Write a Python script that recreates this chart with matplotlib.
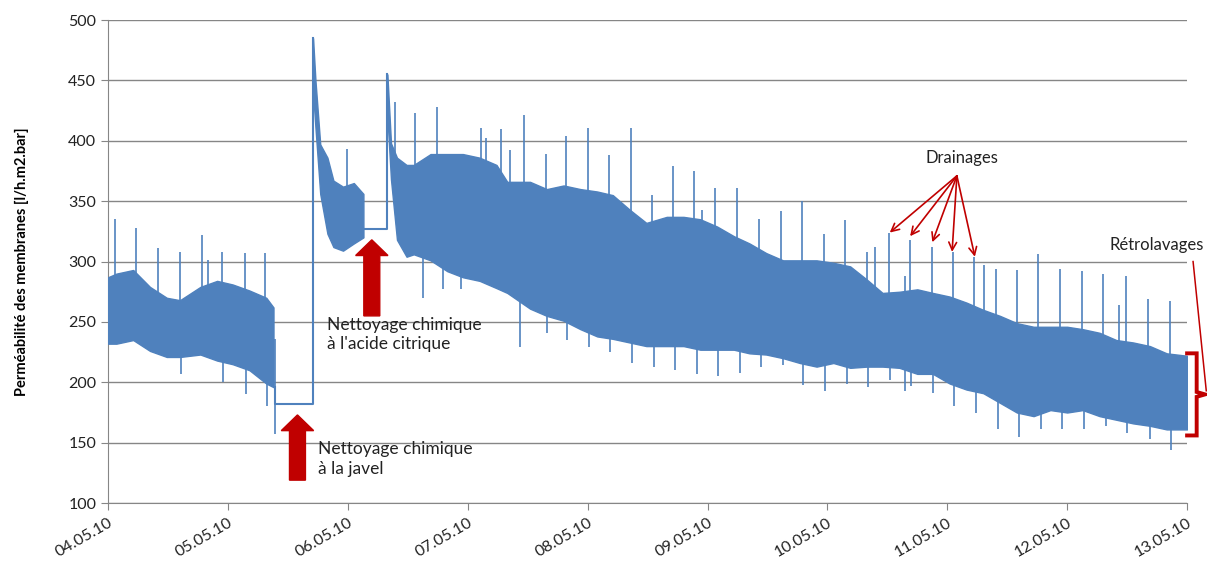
import numpy as np
import matplotlib.pyplot as plt
from matplotlib.patches import FancyArrow

plt.rcParams['font.family'] = ['Lato', 'DejaVu Sans']

# jours depuis le 04.05.10 00:00
date_labels = ['04.05.10', '05.05.10', '06.05.10', '07.05.10', '08.05.10',
               '09.05.10', '10.05.10', '11.05.10', '12.05.10', '13.05.10']

# enveloppe du signal (haut / bas)
seg1_days = [0.0, 0.07, 0.21, 0.35, 0.49, 0.60, 0.77, 0.91, 1.04, 1.18, 1.32, 1.38]
seg1_upper = [287, 290, 293, 279, 270, 268, 279, 284, 281, 276, 270, 262]
seg1_lower = [232, 232, 235, 226, 221, 221, 223, 218, 215, 210, 199, 196]

seg2_days = [1.71, 1.73, 1.77, 1.83, 1.88, 1.96, 2.05, 2.13]
seg2_upper = [485, 450, 397, 386, 367, 362, 365, 356]
seg2_lower = [440, 411, 356, 323, 312, 309, 315, 320]

seg3_days = [2.33, 2.36, 2.41, 2.49, 2.55, 2.69, 2.83, 2.96, 3.10, 3.24, 3.33,
             3.52, 3.66, 3.80, 3.94, 4.08, 4.21, 4.35, 4.49, 4.66, 4.80, 4.94,
             5.08, 5.22, 5.35, 5.49, 5.63, 5.77, 5.91, 6.05, 6.19, 6.33, 6.46,
             6.60, 6.75, 6.88, 7.02, 7.16, 7.30, 7.44, 7.58, 7.72, 7.86, 8.00,
             8.13, 8.27, 8.41, 8.55, 8.69, 8.83, 9.00]
seg3_upper = [455, 398, 386, 380, 380, 389, 389, 389, 386, 380, 366,
              366, 360, 363, 360, 358, 355, 343, 332, 337, 337, 335,
              329, 321, 315, 307, 301, 301, 301, 299, 296, 285, 274,
              275, 277, 274, 271, 266, 260, 255, 249, 246, 246, 246,
              244, 241, 235, 233, 230, 224, 222]
seg3_lower = [420, 368, 318, 304, 306, 301, 292, 287, 284, 278, 274,
              261, 255, 251, 244, 238, 236, 233, 230, 230, 230, 227,
              227, 227, 224, 223, 220, 216, 213, 216, 212, 213, 213,
              212, 207, 207, 199, 194, 191, 183, 175, 172, 177, 175,
              177, 172, 169, 166, 164, 161, 161]

# paliers pendant les nettoyages chimiques
javel_days = [1.39, 1.71]
javel_level = 182
citrique_days = [2.13, 2.33]
citrique_level = 327

# pics vers le haut
peak_days = [0.06, 0.23, 0.42, 0.60, 0.78, 0.83, 0.95, 1.14, 1.31,
             1.99, 2.39, 2.56, 2.74, 3.11, 3.15, 3.28, 3.35, 3.47, 3.65, 3.82,
             4.00, 4.18, 4.36, 4.54, 4.71, 4.89, 4.95, 5.06, 5.25, 5.43, 5.61,
             5.79, 5.97, 6.15, 6.33, 6.40, 6.51, 6.65, 6.69, 6.87, 7.05, 7.22,
             7.31, 7.41, 7.58, 7.76, 7.94, 8.12, 8.30, 8.43, 8.49, 8.67, 8.86]
peak_vals = [335, 328, 311, 308, 322, 301, 308, 307, 307,
             393, 432, 423, 428, 411, 402, 410, 392, 421, 389, 404,
             411, 388, 411, 355, 379, 375, 343, 361, 361, 335, 342,
             350, 323, 334, 308, 312, 324, 288, 318, 312, 308, 304,
             297, 294, 293, 306, 294, 292, 290, 264, 288, 269, 267]

# pics vers le bas
dip_days = [0.61, 0.96, 1.15, 1.33, 1.39,
            2.63, 2.79, 2.94, 3.44, 3.66, 3.83, 4.01, 4.19, 4.37, 4.55,
            4.73, 4.91, 5.09, 5.27, 5.45, 5.63, 5.80, 5.98, 6.16, 6.34,
            6.52, 6.65, 6.70, 6.88, 7.06, 7.24, 7.42, 7.60, 7.78, 7.96,
            8.14, 8.32, 8.50, 8.69, 8.87]
dip_vals = [207, 200, 190, 180, 157,
            270, 277, 277, 229, 241, 235, 229, 225, 216, 213,
            210, 207, 205, 208, 213, 214, 198, 193, 199, 196,
            202, 193, 197, 191, 180, 175, 161, 155, 161, 161,
            161, 164, 158, 153, 144]

blue = '#4F81BD'
red = '#C00000'
grey = '#868686'

fig = plt.figure(figsize=(12.07, 5.64), dpi=100)
ax = fig.add_axes([0.0895, 0.108, 0.894, 0.8565])

segments = [(seg1_days, seg1_upper, seg1_lower),
            (seg2_days, seg2_upper, seg2_lower),
            (seg3_days, seg3_upper, seg3_lower)]
for d, up, lo in segments:
    ax.fill_between(d, lo, up, color=blue, lw=1, edgecolor=blue, zorder=3)

# paliers
ax.plot([javel_days[0], javel_days[0], javel_days[1], javel_days[1]],
        [seg1_lower[-1], javel_level, javel_level, seg2_upper[0]],
        color=blue, lw=1.5, zorder=3)
ax.plot([citrique_days[0], citrique_days[0], citrique_days[1], citrique_days[1]],
        [seg2_lower[-1], citrique_level, citrique_level, seg3_upper[0]],
        color=blue, lw=1.5, zorder=3)

all_days = seg1_days + seg2_days + seg3_days
all_mid = [(u + l) / 2 for u, l in zip(seg1_upper + seg2_upper + seg3_upper,
                                         seg1_lower + seg2_lower + seg3_lower)]
ax.vlines(peak_days, np.interp(peak_days, all_days, all_mid), peak_vals,
          color=blue, lw=1.2, zorder=3)
ax.vlines(dip_days, dip_vals, np.interp(dip_days, all_days, all_mid),
          color=blue, lw=1.2, zorder=3)

ax.set_xlim(0, 9)
ax.set_ylim(100, 500)
ax.set_yticks(range(100, 501, 50))
ax.set_xticks(range(10))
ax.set_xticklabels(date_labels, rotation=30, ha='right', rotation_mode='anchor')
ax.tick_params(axis='both', labelsize=11.5, color=grey, length=5, labelcolor='#222222')
ax.tick_params(axis='x', pad=4)
ax.yaxis.grid(True, color=grey, lw=1)
ax.set_axisbelow(True)
for s in ['top', 'right']:
    ax.spines[s].set_visible(False)
for s in ['left', 'bottom']:
    ax.spines[s].set_color(grey)
ax.set_ylabel('Perméabilité des membranes [l/h.m2.bar]', fontsize=10.5,
              fontweight='bold', labelpad=28)

# flèches des nettoyages
ax.add_patch(FancyArrow(1.58, 119, 0, 54, width=0.133, head_width=0.27,
                        head_length=13, length_includes_head=True,
                        color=red, zorder=4))
ax.add_patch(FancyArrow(2.20, 255, 0, 63, width=0.133, head_width=0.27,
                        head_length=13, length_includes_head=True,
                        color=red, zorder=4))
ax.text(1.75, 151, 'Nettoyage chimique\nà la javel', fontsize=12.5,
        va='top', ha='left', linespacing=1.25, color='#222222')
ax.text(1.83, 254, "Nettoyage chimique\nà l'acide citrique", fontsize=12.5,
        va='top', ha='left', linespacing=1.25, color='#222222')

# drainages
ax.text(7.125, 386, 'Drainages', fontsize=12, ha='center', va='center', color='#222222')
drain_targets = [(6.52, 324), (6.69, 321), (6.875, 316), (7.04, 308), (7.23, 304)]
for tx, ty in drain_targets:
    ax.annotate('', xy=(tx, ty), xytext=(7.08, 371),
                arrowprops=dict(arrowstyle='->', color=red, lw=1.2,
                                shrinkA=0, shrinkB=0, mutation_scale=14))

# rétrolavages
ax.text(8.35, 314, 'Rétrolavages', fontsize=12, ha='left', va='center',
        color='#222222', clip_on=False)
ax.plot([9.0, 9.08, 9.08, 9.15, 9.08, 9.08, 9.0],
        [224, 224, 192, 190, 188, 156, 156],
        color=red, lw=2.8, clip_on=False, zorder=5, solid_joinstyle='miter')
ax.plot([9.05, 9.16], [300, 193], color=red, lw=1.1, clip_on=False, zorder=5)

fig.savefig('out.png', dpi=100)
